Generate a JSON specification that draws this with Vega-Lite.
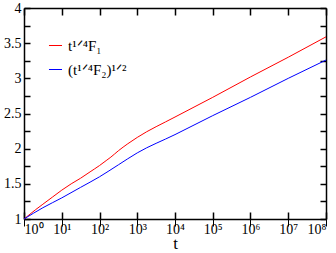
{
  "$schema": "https://vega.github.io/schema/vega-lite/v6.json",
  "width": 302,
  "height": 211,
  "autosize": "none",
  "padding": {"left": 24, "top": 8, "right": 10, "bottom": 34},
  "background": "white",
  "config": {
    "view": {"stroke": null},
    "font": "Liberation Serif",
    "axis": {"grid": false, "domainColor": "black", "labelColor": "black", "titleColor": "black", "labelFont": "Liberation Serif", "titleFont": "Liberation Serif", "domainWidth": 1.5}
  },
  "data": {"values": [
    {"t": 1, "v": 1.0, "s": "F1"},
    {"t": 2, "v": 1.13, "s": "F1"},
    {"t": 3.16, "v": 1.21, "s": "F1"},
    {"t": 5.62, "v": 1.31, "s": "F1"},
    {"t": 10, "v": 1.41, "s": "F1"},
    {"t": 17.8, "v": 1.50, "s": "F1"},
    {"t": 31.6, "v": 1.58, "s": "F1"},
    {"t": 56.2, "v": 1.67, "s": "F1"},
    {"t": 100, "v": 1.76, "s": "F1"},
    {"t": 150, "v": 1.83, "s": "F1"},
    {"t": 200, "v": 1.88, "s": "F1"},
    {"t": 316, "v": 1.97, "s": "F1"},
    {"t": 562, "v": 2.07, "s": "F1"},
    {"t": 1000, "v": 2.16, "s": "F1"},
    {"t": 10000, "v": 2.45, "s": "F1"},
    {"t": 100000, "v": 2.73, "s": "F1"},
    {"t": 1000000, "v": 3.02, "s": "F1"},
    {"t": 10000000, "v": 3.30, "s": "F1"},
    {"t": 100000000, "v": 3.59, "s": "F1"},
    {"t": 1, "v": 1.0, "s": "F2"},
    {"t": 3.16, "v": 1.16, "s": "F2"},
    {"t": 10, "v": 1.30, "s": "F2"},
    {"t": 31.6, "v": 1.45, "s": "F2"},
    {"t": 100, "v": 1.60, "s": "F2"},
    {"t": 316, "v": 1.77, "s": "F2"},
    {"t": 1000, "v": 1.94, "s": "F2"},
    {"t": 10000, "v": 2.20, "s": "F2"},
    {"t": 100000, "v": 2.47, "s": "F2"},
    {"t": 1000000, "v": 2.73, "s": "F2"},
    {"t": 10000000, "v": 3.00, "s": "F2"},
    {"t": 100000000, "v": 3.26, "s": "F2"}
  ]},
  "layer": [
    {
      "mark": {"type": "line", "strokeWidth": 1, "interpolate": "monotone"},
      "encoding": {
        "x": {"field": "t", "type": "quantitative", "scale": {"type": "log", "domain": [1, 100000000], "nice": false},
          "axis": {"orient": "bottom", "title": "t", "titleFontSize": 17, "titleFontWeight": "normal", "titlePadding": -1, "values": [1, 10, 100, 1000, 10000, 100000, 1000000, 10000000, 100000000], "labelExpr": "'10' + ['⁰','¹','²','³','⁴','⁵','⁶','⁷','⁸'][round(log(datum.value)/LN10)]", "labelFontSize": 14, "tickSize": 7, "tickColor": "black", "tickWidth": 1, "labelPadding": -4}},
        "y": {"field": "v", "type": "quantitative", "scale": {"domain": [1, 4], "nice": false, "zero": false},
          "axis": {"orient": "left", "title": null, "format": "~g", "values": [1, 1.5, 2, 2.5, 3, 3.5, 4], "labelFontSize": 14, "tickSize": 7, "tickColor": "black", "tickWidth": 1, "tickOpacity": 0, "labelPadding": -4}},
        "color": {"field": "s", "type": "nominal", "scale": {"domain": ["F1", "F2"], "range": ["#ff0000", "#0000ff"]},
          "legend": {"orient": "none", "legendX": 24, "legendY": 30, "title": null, "symbolType": "stroke", "symbolSize": 170, "symbolStrokeWidth": 1, "labelFontSize": 15, "labelOffset": 5, "labelFont": "Liberation Serif", "rowPadding": 8, "labelExpr": "datum.value == 'F1' ? 't¹ᐟ⁴F₁' : '(t¹ᐟ⁴F₂)¹ᐟ²'"}}
      }
    },
    {
      "mark": {"type": "line", "opacity": 0},
      "encoding": {
        "x": {"field": "t", "type": "quantitative", "axis": {"orient": "top", "offset": -211, "title": null, "labels": false, "domain": false, "values": [1, 10, 100, 1000, 10000, 100000, 1000000, 10000000, 100000000], "tickSize": 7, "tickColor": "black", "tickWidth": 1.5}},
        "y": {"field": "v", "type": "quantitative", "axis": {"orient": "right", "offset": -302, "title": null, "labels": false, "domain": false, "values": [1, 1.25, 1.5, 1.75, 2, 2.25, 2.5, 2.75, 3, 3.25, 3.5, 3.75, 4], "tickSize": 6, "tickColor": "black", "tickWidth": 1.5}}
      }
    },
    {
      "mark": {"type": "line", "opacity": 0},
      "encoding": {
        "x": {"field": "t", "type": "quantitative", "axis": {"orient": "bottom", "offset": -211, "title": null, "labels": false, "domain": true, "values": [1, 10, 100, 1000, 10000, 100000, 1000000, 10000000, 100000000], "tickSize": 7, "tickColor": "black", "tickWidth": 1.5}},
        "y": {"field": "v", "type": "quantitative", "axis": {"orient": "left", "offset": -302, "title": null, "labels": false, "domain": true, "values": [1, 1.25, 1.5, 1.75, 2, 2.25, 2.5, 2.75, 3, 3.25, 3.5, 3.75, 4], "tickSize": 6, "tickColor": "black", "tickWidth": 1.5}}
      }
    }
  ],
  "resolve": {"axis": {"x": "independent", "y": "independent"}}
}
